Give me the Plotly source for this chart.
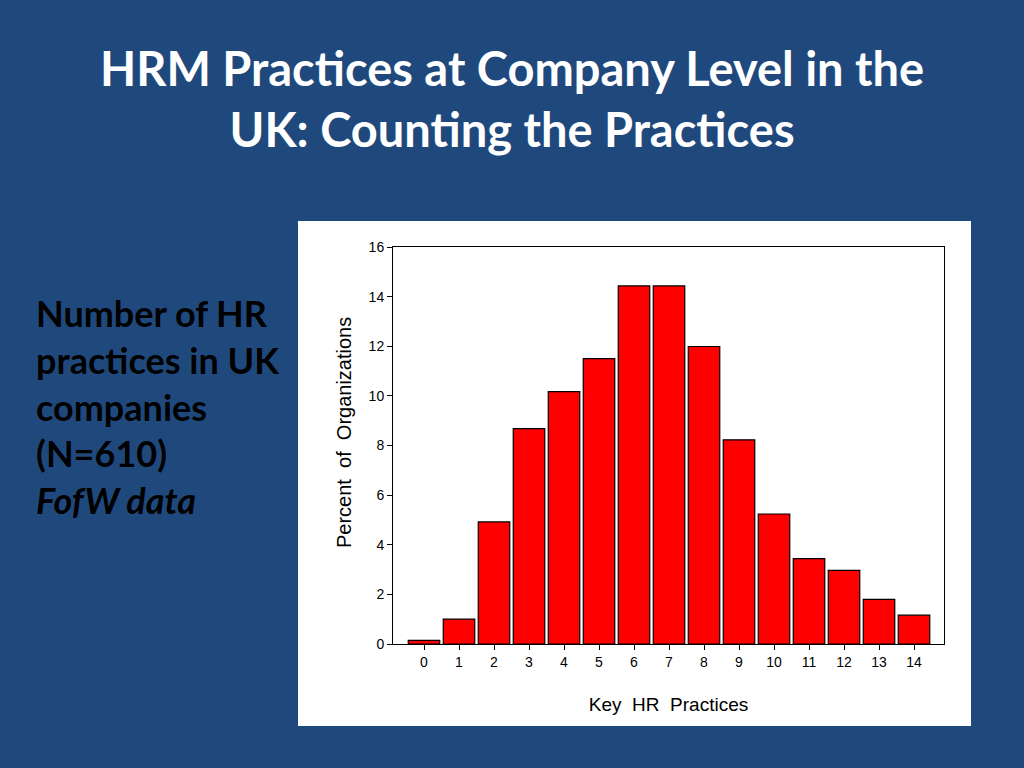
import plotly.graph_objects as go

practices = list(range(15))
percent = [0.15, 1.0, 4.92, 8.68, 10.17, 11.5, 14.43, 14.43, 11.99, 8.23, 5.24, 3.44, 2.97, 1.8, 1.16]
y_ticks = [0, 2, 4, 6, 8, 10, 12, 14, 16]

BG = "#1F497D"
AXIS_FONT = "Liberation Sans, Arial, sans-serif"
SLIDE_FONT = "Lato, Open Sans, sans-serif"

# plot area in pixels: x 393..944, y 247..644
PX_L, PX_R, PX_T, PX_B = 393, 944, 247, 644


def px(x):
    return (x - PX_L) / (PX_R - PX_L)


def py(y):
    return (PX_B - y) / (PX_B - PX_T)


fig = go.Figure()

fig.add_trace(go.Bar(
    x=practices,
    y=percent,
    width=0.9,
    marker=dict(color="#FF0000", line=dict(color="#000000", width=1.2)),
    showlegend=False,
))

# white panel behind the chart
fig.add_shape(
    type="rect", xref="paper", yref="paper",
    x0=px(298), x1=px(971), y0=py(726), y1=py(221),
    fillcolor="#FFFFFF", line=dict(width=0), layer="below",
)

fig.update_layout(
    width=1024,
    height=768,
    paper_bgcolor=BG,
    plot_bgcolor="#FFFFFF",
    margin=dict(l=PX_L, r=1024 - PX_R, t=PX_T, b=768 - PX_B),
    xaxis=dict(
        range=[-0.886, 14.857],
        tickmode="array",
        tickvals=practices,
        ticks="outside",
        ticklen=5,
        tickcolor="#000000",
        showgrid=False,
        zeroline=False,
        showline=True,
        linecolor="#000000",
        linewidth=1,
        mirror=True,
        tickfont=dict(family=AXIS_FONT, size=14, color="#000000"),
        title=dict(text="Key  HR  Practices", standoff=28,
                   font=dict(family=AXIS_FONT, size=19, color="#000000")),
    ),
    yaxis=dict(
        range=[0, 16],
        tickmode="array",
        tickvals=y_ticks,
        ticks="outside",
        ticklen=5,
        tickcolor="#000000",
        showgrid=False,
        zeroline=False,
        showline=True,
        linecolor="#000000",
        linewidth=1,
        mirror=True,
        tickfont=dict(family=AXIS_FONT, size=14, color="#000000"),
    ),
    annotations=[
        dict(
            text="<b>HRM Practices at Company Level in the<br>UK: Counting the Practices</b>",
            xref="paper", yref="paper",
            x=px(512), y=py(98),
            xanchor="center", yanchor="middle", align="center", showarrow=False,
            font=dict(family=SLIDE_FONT, size=47, color="#FFFFFF"),
        ),
        dict(
            text="<b>Number of HR<br>practices in UK<br>companies<br>(N=610)<br><i>FofW data</i></b>",
            xref="paper", yref="paper",
            x=px(34), y=py(289),
            xanchor="left", yanchor="top", align="left", showarrow=False,
            font=dict(family=SLIDE_FONT, size=36, color="#000000"),
        ),
        dict(
            text="Percent  of  Organizations",
            xref="paper", yref="paper",
            x=px(344), y=py(433),
            xanchor="center", yanchor="middle", textangle=-90, showarrow=False,
            font=dict(family=AXIS_FONT, size=20, color="#000000"),
        ),
    ],
)

fig.write_html(
    "out.html",
    config={"displayModeBar": False},
    post_script="document.body.style.margin='0';",
)
